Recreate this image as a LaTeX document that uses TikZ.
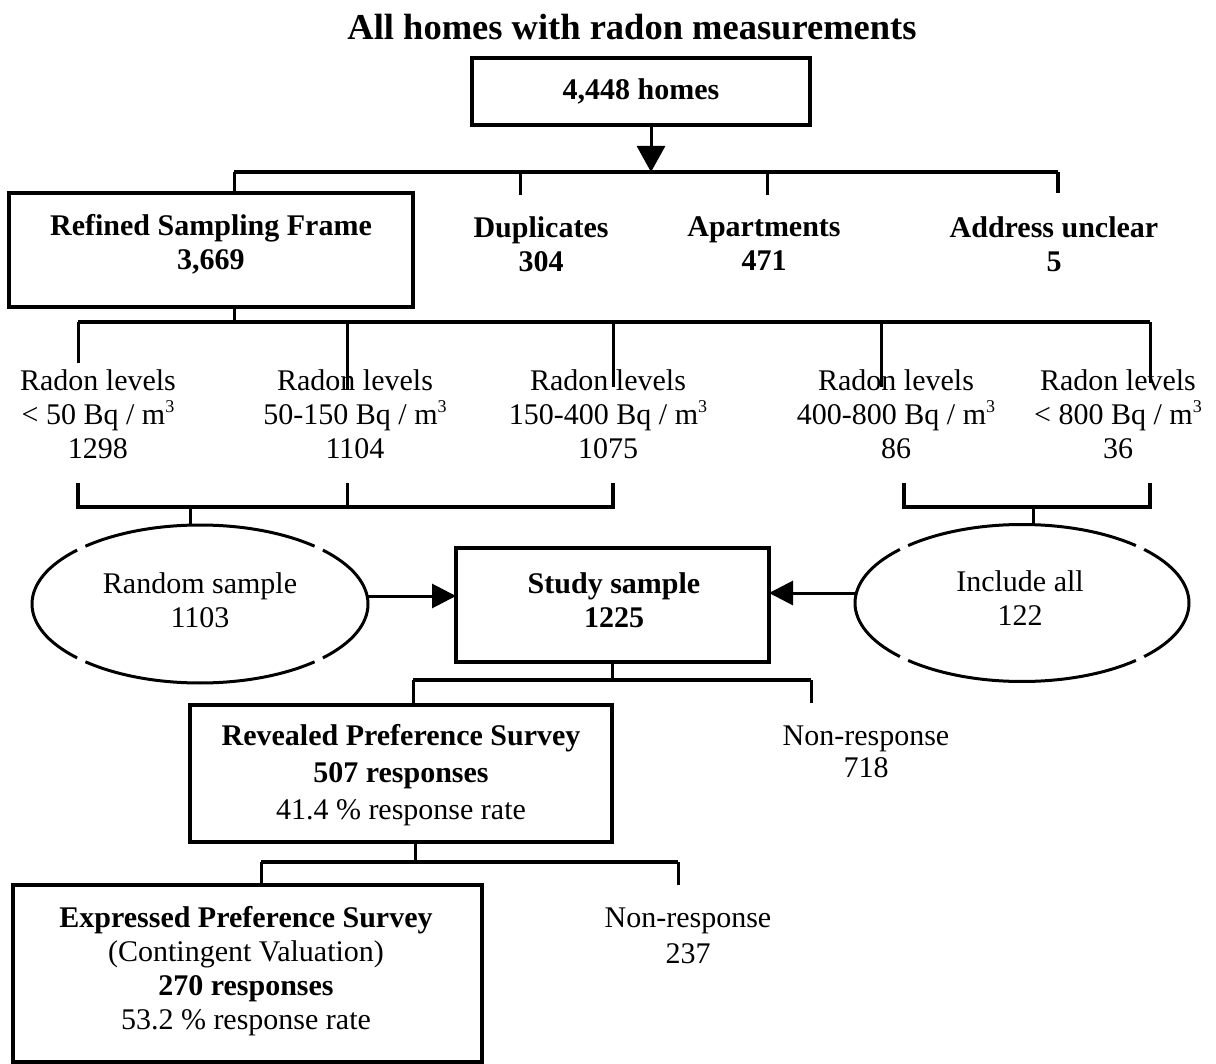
\documentclass[tikz,border=0pt]{standalone}
\usepackage{fontspec}
\setmainfont{Liberation Serif}
\usetikzlibrary{arrows.meta,shapes.geometric,calc}
% small raised exponent for cubic metres
\newcommand\mcube{\raisebox{0.4em}{\fontsize{18}{18}\selectfont 3}}

\begin{document}
\begin{tikzpicture}[x=1pt,y=-1pt,
  every node/.style={inner sep=0pt,outer sep=0pt},
  txt/.style={align=center,font=\fontsize{30}{34}\selectfont},
  btxt/.style={align=center,font=\fontsize{30}{34}\selectfont\bfseries},
  box/.style={draw,rectangle,line width=3.5pt},
  oval/.style={ellipse,draw=none},
  link/.style={line width=3pt},
  bar/.style={line width=4.5pt},
  rim/.style={line width=3pt},
  arr/.style={line width=3pt,-{Triangle[length=24pt,width=24pt]}},
  bigarr/.style={line width=3pt,-{Triangle[length=26pt,width=28pt]}},
]
\useasboundingbox (0,0) rectangle (1216,1064);

% title
\node[font=\fontsize{36.5}{40}\selectfont\bfseries] (title) at (632,27) {All homes with radon measurements};

% first split
\node[box,minimum width=338pt,minimum height=67pt,btxt] (homes) at (641,91.5) {4,448 homes};
\node[box,minimum width=404pt,minimum height=114pt] (refined) at (211,250) {};
\node[btxt] (refinedtxt) at (211,244) {Refined Sampling Frame\\3,669};
\node[btxt] (dup) at (541,244) {Duplicates\\304};
\node[btxt] (apt) at (764,244) {Apartments\\471};
\node[btxt] (addr) at (1054,244) {Address unclear\\5};

\coordinate (topbar) at (651,172);
\coordinate (rfTop) at (234,193);
\coordinate (dupTop) at (520,195);
\coordinate (aptTop) at (767,195);
\coordinate (addrTop) at (1058,193);
\coordinate (homesOut) at (651,125);

\draw[bigarr] (homesOut) -- (topbar);
\draw[bar] (rfTop |- topbar) -- (addrTop |- topbar);
\draw[link] (rfTop |- topbar) -- (rfTop);
\draw[link] (dupTop |- topbar) -- (dupTop);
\draw[link] (aptTop |- topbar) -- (aptTop);
\draw[bar] (addrTop |- topbar) -- (addrTop);

% radon level classes
\node[txt] (r1) at (98,414) {Radon levels\\< 50 Bq / m\mcube\\1298};
\node[txt] (r2) at (355,414) {Radon levels\\50-150 Bq / m\mcube\\1104};
\node[txt] (r3) at (608,414) {Radon levels\\150-400 Bq / m\mcube\\1075};
\node[txt] (r4) at (896,414) {Radon levels\\400-800 Bq / m\mcube\\86};
\node[txt] (r5) at (1118,414) {Radon levels\\< 800 Bq / m\mcube\\36};

\coordinate (rfBot) at (234,307);
\coordinate (midbar) at (234,322);
\coordinate (r1t) at (78,363);
\coordinate (r2t) at (347,390);
\coordinate (r3t) at (613,387);
\coordinate (r4t) at (881,387);
\coordinate (r5t) at (1150,383);

\draw[link] (rfBot) -- (midbar);
\draw[bar] (r1t |- midbar) -- (r5t |- midbar);
\foreach \p in {r1t,r2t,r3t,r4t,r5t} \draw[link] (\p |- midbar) -- (\p);

% brackets gathering the classes
\coordinate (lbA) at (78,483);
\coordinate (lbB) at (347,483);
\coordinate (lbC) at (613,483);
\coordinate (lbJ) at (190,507);
\coordinate (rbA) at (904,483);
\coordinate (rbB) at (1150,483);
\coordinate (rbJ) at (1033,507);

\draw[bar] (lbA) |- (lbC |- lbJ) -- (lbC);
\draw[link] (lbB) -- (lbB |- lbJ);
\draw[bar] (rbA) |- (rbB |- rbJ) -- (rbB);

% sampling ovals
\node[oval,minimum width=336pt,minimum height=158pt] (rs) at (200,604) {};
\node[oval,minimum width=334pt,minimum height=157pt] (ia) at (1022,603) {};
\foreach \o/\rx/\ry in {rs/168/79,ia/167/78.5}{
  \draw[rim] (\o.center) ++(47:\rx pt and \ry pt) arc[start angle=47,end angle=133,x radius=\rx pt,y radius=\ry pt];
  \draw[rim] (\o.center) ++(137:\rx pt and \ry pt) arc[start angle=137,end angle=223,x radius=\rx pt,y radius=\ry pt];
  \draw[rim] (\o.center) ++(227:\rx pt and \ry pt) arc[start angle=227,end angle=313,x radius=\rx pt,y radius=\ry pt];
  \draw[rim] (\o.center) ++(317:\rx pt and \ry pt) arc[start angle=317,end angle=403,x radius=\rx pt,y radius=\ry pt];
}
\node[txt] (rstxt) at (200,600) {Random sample\\1103};
\node[txt] (iatxt) at (1020,598) {Include all\\122};

\draw[link] (lbJ) -- (lbJ |- rs.north);
\draw[link] (rbJ) -- (rbJ |- ia.north);

% study sample
\node[box,minimum width=313pt,minimum height=114pt] (study) at (612.5,605) {};
\node[btxt] (studytxt) at (614,600) {Study sample\\1225};

\coordinate (rsE) at ([yshift=8pt]rs.east);
\coordinate (iaW) at ([yshift=10pt]ia.west);
\draw[arr] (rsE) -- (rsE -| study.west);
\draw[arr] (iaW) -- (iaW -| study.east);

% first survey
\node[box,minimum width=422pt,minimum height=137pt] (rev) at (401,773.5) {};
\node[align=center,font=\fontsize{30}{37}\selectfont] (revtxt) at (401,775)
  {\textbf{Revealed Preference Survey}\\\textbf{507 responses}\\41.4 \% response rate};
\node[align=center,font=\fontsize{30}{32}\selectfont] (nr1) at (866,752) {Non-response\\718};

\coordinate (stBot) at (612,662);
\coordinate (lowbar1) at (612,680);
\coordinate (revTop) at (413,705);
\coordinate (nr1Top) at (811,703);
\draw[link] (stBot) -- (lowbar1);
\draw[bar] (revTop |- lowbar1) -- (nr1Top |- lowbar1);
\draw[link] (revTop |- lowbar1) -- (revTop);
\draw[link] (nr1Top |- lowbar1) -- (nr1Top);

% second survey
\node[box,minimum width=469pt,minimum height=177pt] (exp) at (247.5,973.5) {};
\node[txt] (exptxt) at (246,971)
  {\textbf{Expressed Preference Survey}\\(Contingent Valuation)\\\textbf{270 responses}\\53.2 \% response rate};
\node[align=center,font=\fontsize{30}{36}\selectfont] (nr2) at (688,936) {Non-response\\237};

\coordinate (revBot) at (415,842);
\coordinate (lowbar2) at (415,862);
\coordinate (expTop) at (261,885);
\coordinate (nr2Top) at (678,885);
\draw[link] (revBot) -- (lowbar2);
\draw[bar] (expTop |- lowbar2) -- (nr2Top |- lowbar2);
\draw[link] (expTop |- lowbar2) -- (expTop);
\draw[link] (nr2Top |- lowbar2) -- (nr2Top);

\end{tikzpicture}
\end{document}
